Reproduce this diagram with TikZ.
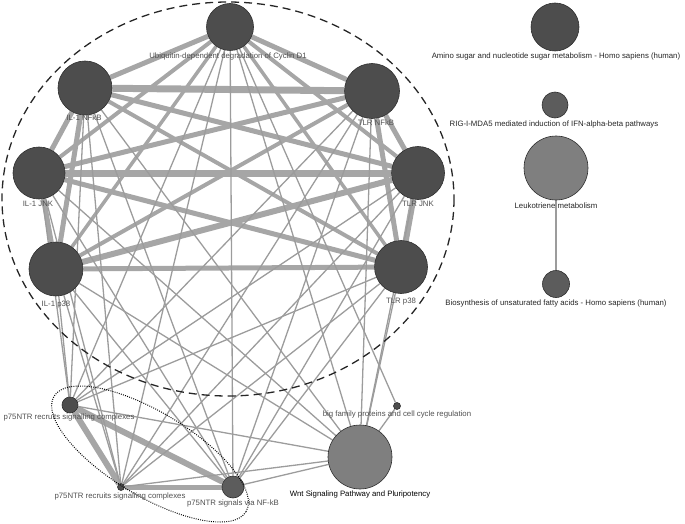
\documentclass[tikz,border=0pt]{standalone}
\usepackage{fontspec}
\setmainfont{Liberation Sans}
\pgfdeclarelayer{bg}
\pgfsetlayers{bg,main}
\definecolor{nodeA}{HTML}{4D4D4D}
\definecolor{nodeAd}{HTML}{2E2E2E}
\definecolor{nodeB}{HTML}{7F7F7F}
\definecolor{nodeC}{HTML}{5C5C5C}
\definecolor{edgeA}{HTML}{A6A6A6}
\definecolor{edgeB}{HTML}{9C9C9C}
\definecolor{labc}{HTML}{505050}
\begin{document}
\begin{tikzpicture}[x=1pt,y=-1pt,
  nd/.style={circle,inner sep=0pt,draw=nodeAd,line width=0.6pt},
  ndA/.style={nd,fill=nodeA},
  ndB/.style={nd,fill=nodeB},
  ndC/.style={nd,fill=nodeC},
  lab/.style={font=\fontsize{7.8}{9}\selectfont,text=labc,inner sep=0pt},
  thk/.style={draw=edgeA},
  thn/.style={draw=edgeB,line width=1.3pt},
  dashE/.style={draw=black!85,line width=1.3pt,dash pattern=on 8pt off 5pt},
  dotE/.style={draw=black,line width=1pt,dash pattern=on 0.9pt off 1.3pt}
]
\useasboundingbox (0,0) rectangle (685,524);
% cluster nodes
\node[ndA,minimum size=47pt] (C) at (230,27) {};
\node[ndA,minimum size=54pt] (INF) at (85,88) {};
\node[ndA,minimum size=55pt] (TNF) at (372,91) {};
\node[ndA,minimum size=52pt] (IJ) at (39,173) {};
\node[ndA,minimum size=53pt] (TJ) at (418,173) {};
\node[ndA,minimum size=54pt] (IP) at (56,269) {};
\node[ndA,minimum size=53pt] (TP) at (401,267) {};
% bottom nodes
\node[ndA,minimum size=16pt] (P1) at (70,405) {};
\node[ndA,minimum size=7pt] (P2) at (121,487) {};
\node[ndC,minimum size=22pt] (PN) at (233,487) {};
\node[ndB,minimum size=64pt] (W) at (360,457) {};
\node[ndA,minimum size=7pt] (BF) at (397,406) {};
% right side
\node[ndA,minimum size=48pt] (AM) at (555,27) {};
\node[ndC,minimum size=26pt] (RG) at (555,105) {};
\node[ndB,minimum size=64pt] (LK) at (556,168) {};
\node[ndC,minimum size=27pt] (BS) at (556,284) {};
% edges
\begin{pgfonlayer}{bg}
\foreach \a/\b/\w in {C/INF/5,C/TNF/5,C/IJ/4,C/TJ/4,C/IP/3.5,C/TP/3.5,
  INF/TNF/7,INF/IJ/5,INF/TJ/5,INF/IP/5,INF/TP/4,
  TNF/IJ/5,TNF/TJ/5,TNF/IP/4,TNF/TP/5,
  IJ/TJ/7,IJ/IP/5,IJ/TP/5,TJ/IP/6,TJ/TP/6,IP/TP/5,
  P1/P2/6,P1/PN/6,P2/PN/5}
  \draw[thk,line width=\w pt] (\a) -- (\b);
\foreach \a in {C,INF,TNF,IJ,TJ,IP,TP}
  \foreach \b in {P1,P2,PN,W}
    \draw[thn] (\a) -- (\b);
\draw[thn] (C) -- (BF);
\draw[thn] (BF) -- (W);
\draw[thn] (P1) -- (W);
\draw[thn] (P2) -- (W);
\draw[thn] (PN) -- (W);
\draw[thn,line width=1.6pt] (LK) -- (BS);
\end{pgfonlayer}
% highlight ellipses
\draw[dashE] (228,199) ellipse [x radius=226, y radius=197];
\draw[dotE,rotate around={-31:(150,454)}] (150,454) ellipse [x radius=112, y radius=42];
% labels
\node[lab] (lC) at (228,56) {Ubiquitin-dependent degradation of Cyclin D1};
\node[lab] (lINF) at (84,118) {IL-1 NFkB};
\node[lab] (lTNF) at (376,123) {TLR NFkB};
\node[lab] (lIJ) at (38,204) {IL-1 JNK};
\node[lab] (lTJ) at (418,204) {TLR JNK};
\node[lab] (lIP) at (56,305) {IL-1 p38};
\node[lab] (lTP) at (401,302) {TLR p38};
\node[lab] (lP1) at (69,417) {p75NTR recruits signalling complexes};
\node[lab] (lP2) at (120,496) {p75NTR recruits signalling complexes};
\node[lab] (lPN) at (233,503) {p75NTR signals via NF-kB};
\node[lab,text=black] (lW) at (360,494) {Wnt Signaling Pathway and Pluripotency};
\node[lab] (lBF) at (397,414) {big family proteins and cell cycle regulation};
\node[lab,text=black!85] (lAM) at (556,56) {Amino sugar and nucleotide sugar metabolism - Homo sapiens (human)};
\node[lab,text=black!85] (lRG) at (554,124) {RIG-I-MDA5 mediated induction of IFN-alpha-beta pathways};
\node[lab,text=black!85] (lLK) at (556,206) {Leukotriene metabolism};
\node[lab,text=black!85] (lBS) at (556,303) {Biosynthesis of unsaturated fatty acids - Homo sapiens (human)};
\end{tikzpicture}
\end{document}
